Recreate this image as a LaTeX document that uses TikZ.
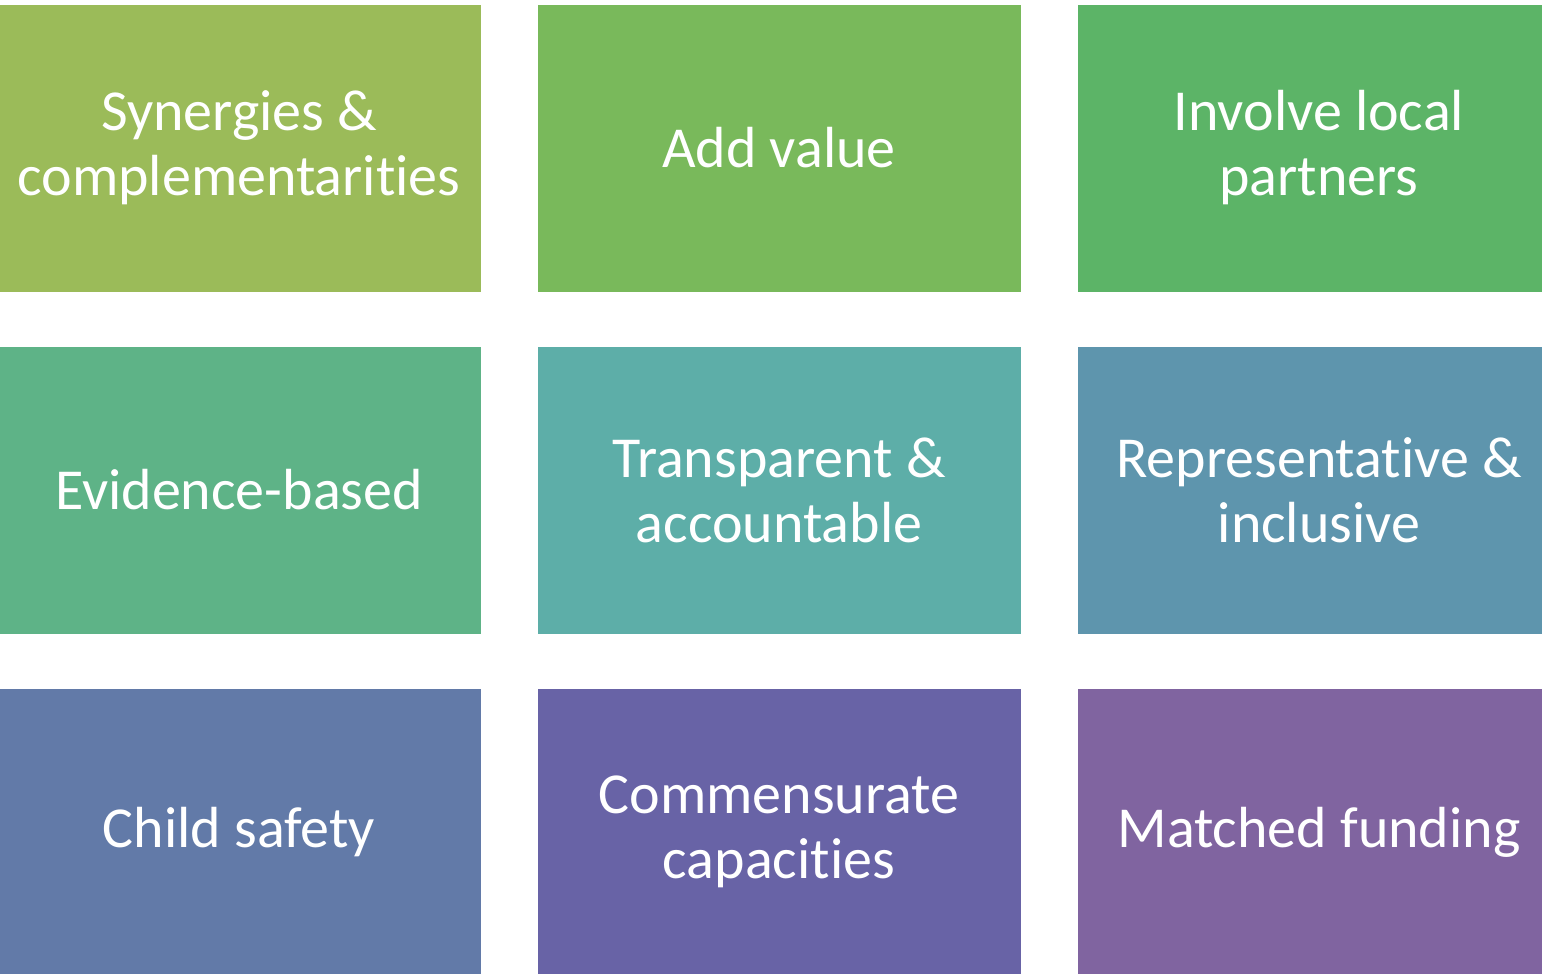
\documentclass[tikz,border=0pt]{standalone}
\usepackage{fontspec}
\setmainfont{Carlito}[Ligatures=NoCommon]
\usetikzlibrary{positioning}

\definecolor{c11}{RGB}{155,187,89}
\definecolor{c12}{RGB}{121,185,91}
\definecolor{c13}{RGB}{92,180,103}
\definecolor{c21}{RGB}{94,179,135}
\definecolor{c22}{RGB}{93,174,168}
\definecolor{c23}{RGB}{94,149,173}
\definecolor{c31}{RGB}{98,122,168}
\definecolor{c32}{RGB}{104,99,166}
\definecolor{c33}{RGB}{128,100,160}

\begin{document}
\begin{tikzpicture}[box/.style={draw=white, line width=0.6pt, minimum width=363pt, minimum height=216pt, inner sep=0pt, outer sep=0pt, align=center, text=white, font=\fontsize{43.5pt}{48.75pt}\selectfont}, node distance=40.5pt and 42pt]
\useasboundingbox (0,0) rectangle (1156.5pt,-730.5pt);
\clip (0,0) rectangle (1156.5pt,-730.5pt);
\node[box, fill=c11, anchor=north west] (b11) at (-2.25pt,-3pt) {Synergies \&\\complementarities};
\node[box, fill=c12, right=of b11] (b12) {Add value};
\node[box, fill=c13, right=of b12] (b13) {Involve local\\partners};
\node[box, fill=c21, below=of b11] (b21) {Evidence-based};
\node[box, fill=c22, right=of b21] (b22) {Transparent \&\\accountable};
\node[box, fill=c23, right=of b22] (b23) {Representative \&\\inclusive};
\node[box, fill=c31, below=of b21] (b31) {Child safety};
\node[box, fill=c32, right=of b31] (b32) {Commensurate\\capacities};
\node[box, fill=c33, right=of b32] (b33) {Matched funding};
\end{tikzpicture}
\end{document}
